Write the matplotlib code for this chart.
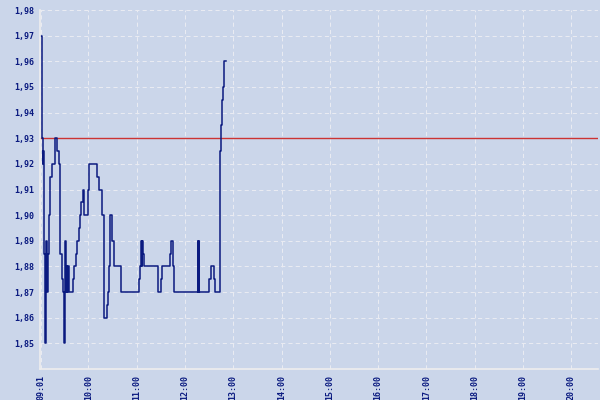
import matplotlib
matplotlib.use("Agg")
import matplotlib.pyplot as plt

# price ticks (time, value), drawn as a step line
times = ["09:01", "09:02", "09:03", "09:04", "09:04", "09:05", "09:05", "09:06",
         "09:07", "09:07", "09:08", "09:09", "09:10", "09:11", "09:12", "09:13",
         "09:15", "09:19", "09:21", "09:23", "09:25", "09:27", "09:28", "09:30",
         "09:31", "09:32", "09:33", "09:34", "09:35", "09:36", "09:41", "09:42",
         "09:45", "09:46", "09:48", "09:50", "09:51", "09:53", "09:55", "10:00",
         "10:01", "10:11", "10:13", "10:17", "10:19", "10:20", "10:23", "10:24",
         "10:26", "10:27", "10:29", "10:32", "10:41", "11:03", "11:04", "11:05",
         "11:06", "11:07", "11:07", "11:08", "11:09", "11:27", "11:30", "11:32",
         "11:42", "11:43", "11:45", "11:47", "12:16", "12:16", "12:17", "12:18",
         "12:30", "12:32", "12:36", "12:37", "12:44", "12:45", "12:46", "12:47",
         "12:49", "12:51"]
prices = [1.97, 1.955, 1.93, 1.92, 1.925, 1.92, 1.885, 1.85,
          1.87, 1.85, 1.89, 1.87, 1.885, 1.90, 1.905, 1.915,
          1.92, 1.93, 1.925, 1.92, 1.885, 1.875, 1.87, 1.85,
          1.89, 1.87, 1.88, 1.87, 1.88, 1.87, 1.875, 1.88,
          1.885, 1.89, 1.895, 1.90, 1.905, 1.91, 1.90, 1.91,
          1.92, 1.915, 1.91, 1.90, 1.875, 1.86, 1.865, 1.87,
          1.88, 1.90, 1.89, 1.88, 1.87, 1.875, 1.88, 1.885,
          1.89, 1.88, 1.89, 1.885, 1.88, 1.87, 1.875, 1.88,
          1.885, 1.89, 1.88, 1.87, 1.89, 1.87, 1.89, 1.87,
          1.875, 1.88, 1.875, 1.87, 1.925, 1.935, 1.945, 1.95,
          1.96, 1.96]
ref_price = 1.93

tick_labels = ["09:01", "10:00", "11:00", "12:00", "13:00", "14:00", "15:00",
               "16:00", "17:00", "18:00", "19:00", "20:00"]
y_ticks = [1.85, 1.86, 1.87, 1.88, 1.89, 1.90, 1.91, 1.92, 1.93, 1.94,
           1.95, 1.96, 1.97, 1.98]


def to_hours(s):
    h, m = s.split(":")
    return int(h) + int(m) / 60.0


x = [to_hours(t) for t in times]
tick_pos = [to_hours(t) for t in tick_labels]

bg = "#cbd6ea"
navy = "#0a1a80"

fig = plt.figure(figsize=(6, 4), dpi=100, facecolor=bg)
ax = fig.add_axes([40 / 600, 31 / 400, 558 / 600, 359 / 400])
ax.set_facecolor(bg)

ax.grid(True, color="#e9ebf2", linestyle=(0, (4, 3)), linewidth=0.75)
ax.set_axisbelow(True)

ax.axhline(ref_price, color="#cc3333", linewidth=1.0)
ax.plot(x, prices, drawstyle="steps-post", color=navy, linewidth=1.1)

ax.set_xlim(9.0, 20.55)
ax.set_ylim(1.84, 1.98)
ax.set_xticks(tick_pos)
ax.set_xticklabels(tick_labels, rotation=90)
ax.set_yticks(y_ticks)
ax.set_yticklabels([f"{v:.2f}".replace(".", ",") for v in y_ticks])

for lab in ax.get_xticklabels() + ax.get_yticklabels():
    lab.set_family("DejaVu Sans Mono")
    lab.set_fontsize(6)
    lab.set_fontweight("bold")
    lab.set_color(navy)

ax.tick_params(length=0, pad=4)
for side in ["top", "right"]:
    ax.spines[side].set_visible(False)
for side in ["left", "bottom"]:
    ax.spines[side].set_color("#eeeeee")
    ax.spines[side].set_linewidth(1.2)

fig.savefig("out.png", dpi=100, facecolor=bg)
